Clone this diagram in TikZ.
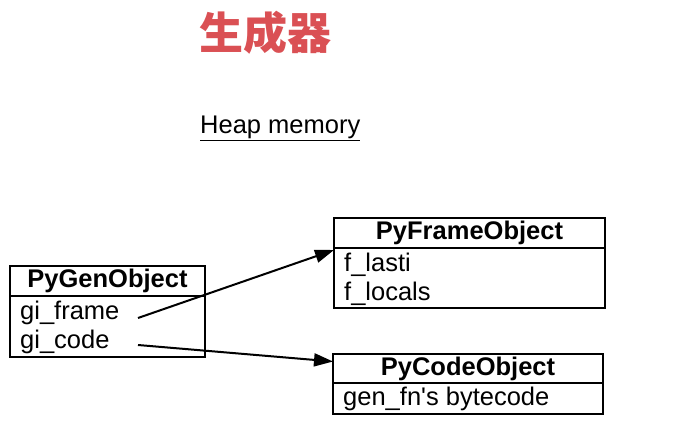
\documentclass[tikz,border=0pt]{standalone}
\usepackage{fontspec}
\setmainfont{Liberation Sans}
\newfontfamily\plain{Liberation Sans}
\newfontfamily\cjk{Noto Sans CJK SC}
\usetikzlibrary{arrows.meta,positioning}
\definecolor{titlered}{RGB}{218,80,84}

\begin{document}
\begin{tikzpicture}[
    x=1pt, y=-1pt,
    box/.style={rectangle, draw, line width=2pt, outer sep=0pt, inner sep=0pt},
    head/.style={box, minimum height=30pt, font=\bfseries\fontsize{25.5}{28}\selectfont},
    body/.style={box},
    field/.style={anchor=base west, inner sep=0pt, font=\fontsize{25.5}{28}\selectfont},
    ptr/.style={-{Triangle[length=19pt,width=13pt]}, line width=2pt}
]
    \useasboundingbox (0,0) rectangle (685,438);

    % Title
    \node[text=titlered, font=\cjk\bfseries\fontsize{44}{48}\selectfont] (title) at (265,33) {生成器};
    \node[anchor=base west, inner sep=0pt, font=\fontsize{25.5}{28}\selectfont] (heap) at (200,134) {\underline{Heap memory}};

    % PyGenObject
    \node[head, minimum width=195pt, anchor=north west] (gen) at (10,266) {PyGenObject};
    \node[body, minimum width=195pt, minimum height=61pt, below=0pt of gen] (genbody) {};
    \node[field] (giframe) at (20,319) {gi\_frame};
    \node[field] (gicode) at (20,348) {gi\_code};

    % PyFrameObject
    \node[head, minimum width=271pt, anchor=north west] (frame) at (334,218) {PyFrameObject};
    \node[body, minimum width=271pt, minimum height=60pt, below=0pt of frame] (framebody) {};
    \node[field] (flasti) at (344,272) {f\_lasti};
    \node[field] (flocals) at (344,301) {f\_locals};

    % PyCodeObject
    \node[head, minimum width=270pt, minimum height=29pt, anchor=north west] (code) at (333,354) {PyCodeObject};
    \node[body, minimum width=270pt, minimum height=31pt, below=0pt of code] (codebody) {};
    \node[field] (bytecode) at (343,405) {gen\_fn{\plain '}s bytecode};

    % Pointers
    \coordinate (framesrc) at (138,318);
    \coordinate (codesrc) at (138,345);
    \draw[ptr] (framesrc) -- ([yshift=-2pt]frame.south west);
    \draw[ptr] (codesrc) -- ([yshift=7pt]code.west);
\end{tikzpicture}
\end{document}
